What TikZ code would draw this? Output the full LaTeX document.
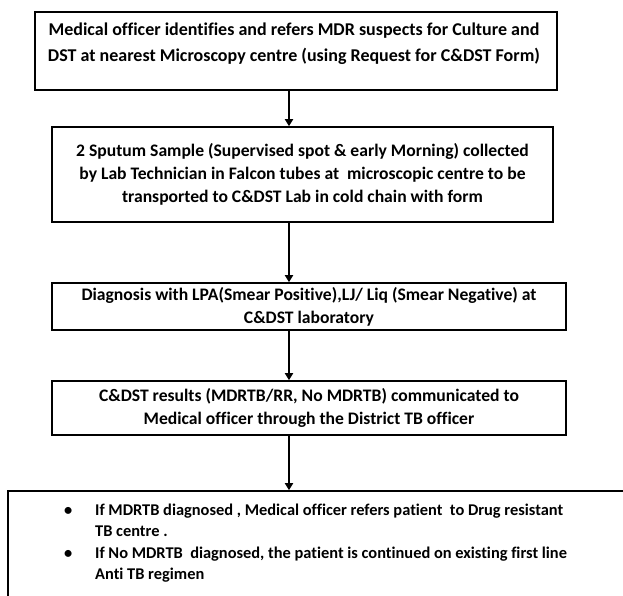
\documentclass[tikz,border=0pt]{standalone}
\usepackage{fontspec}
\setmainfont{Carlito}[Ligatures=NoCommon]
\usetikzlibrary{arrows.meta}
\begin{document}
\begin{tikzpicture}[x=1pt,y=-1pt,
  box/.style={draw=black,line width=1.6pt,rectangle,inner sep=0pt,align=center,
    font=\bfseries\fontsize{17.6}{23}\selectfont},
  txt/.style={inner sep=0pt,align=center,font=\bfseries\fontsize{18}{26.5}\selectfont},
  flow/.style={line width=2pt,-{Triangle[width=8pt,length=7pt]}}]
\useasboundingbox (0,0) rectangle (623,596);
\fill[white] (0,0) rectangle (623,596);
\node[box,minimum width=522pt,minimum height=78pt] (b1) at (296,51) {};
\node[txt] (t1) at (294,43.5)
  {Medical officer identifies and refers MDR suspects for Culture and\\
   DST at nearest Microscopy centre (using Request for C\&DST Form)};
\node[box,minimum width=501pt,minimum height=95pt] (b2) at (302.5,174.5)
  {2 Sputum Sample (Supervised spot \& early Morning) collected\\
   by Lab Technician in Falcon tubes at\ \ microscopic centre to be\\
   transported to C\&DST Lab in cold chain with form};
\node[box,minimum width=514pt,minimum height=47pt] (b3) at (309,306.5)
  {Diagnosis with LPA(Smear Positive),LJ/ Liq (Smear Negative) at\\
   C\&DST laboratory};
\node[box,minimum width=514pt,minimum height=54pt] (b4) at (309,408)
  {C\&DST results (MDRTB/RR, No MDRTB) communicated to\\
   Medical officer through the District TB officer};
\node[box,minimum width=640pt,minimum height=120pt] (b5) at (328,551) {};
\node[anchor=north west,inner sep=0pt,font=\bfseries\fontsize{16.4}{21.5}\selectfont,align=left] (t5) at (64,500)
  {\begin{tabular}{@{}p{31pt}@{}l@{}}
   \textbullet & If MDRTB diagnosed , Medical officer\ refers patient\ \ to Drug resistant\\
   & TB centre .\\
   \textbullet & If No MDRTB\ \ diagnosed, the patient is continued on existing first line\\
   & Anti TB regimen
   \end{tabular}};
\coordinate (ax) at (289,0);
\draw[flow] (b1.south -| ax) -- (b2.north -| ax);
\draw[flow] (b2.south -| ax) -- (b3.north -| ax);
\draw[flow] (b3.south -| ax) -- (b4.north -| ax);
\draw[flow] (b4.south -| ax) -- (b5.north -| ax);
\end{tikzpicture}
\end{document}
